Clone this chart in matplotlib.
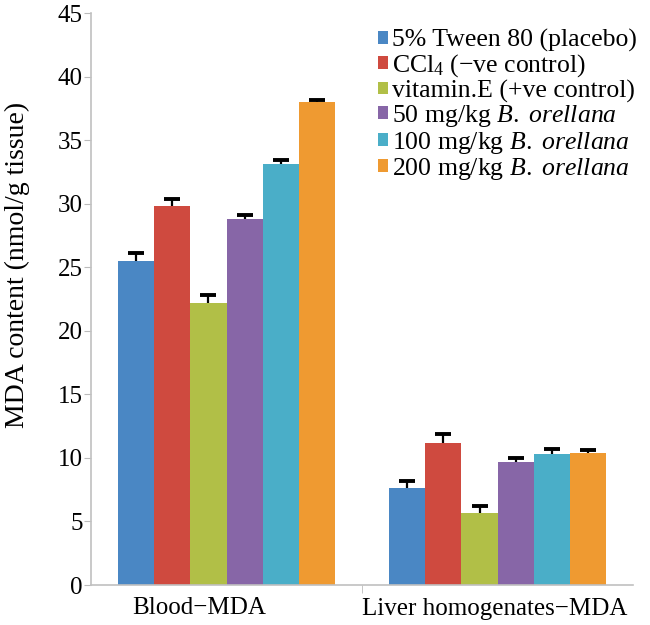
import numpy as np
import matplotlib.pyplot as plt
from matplotlib.ticker import FixedLocator, NullFormatter

plt.rcParams['font.family'] = ['Liberation Serif', 'DejaVu Serif']
plt.rcParams['mathtext.fontset'] = 'custom'
plt.rcParams['mathtext.rm'] = 'Liberation Serif'
plt.rcParams['mathtext.it'] = 'Liberation Serif:italic'

groups = ["Blood\u2212MDA", "Liver homogenates\u2212MDA"]
labels = ["5% Tween 80 (placebo)",
          "CCl$_4$ (\u2212ve control)",
          "vitamin.E (+ve control)",
          "50 mg/kg $\\it{B.\\ orellana}$",
          "100 mg/kg $\\it{B.\\ orellana}$",
          "200 mg/kg $\\it{B.\\ orellana}$"]
colors = ["#4a87c4", "#cf4a3f", "#b1bf47", "#8766a7", "#4aaec8", "#ef9a31"]

# mean values [blood, liver] per treatment
values = [[25.5, 7.6],
          [29.8, 11.2],
          [22.2, 5.65],
          [28.8, 9.65],
          [33.1, 10.3],
          [38.0, 10.4]]
errors = [[0.6, 0.55],
          [0.6, 0.65],
          [0.6, 0.55],
          [0.3, 0.35],
          [0.35, 0.4],
          [0.2, 0.2]]

fig = plt.figure(figsize=(6.5, 6.25), dpi=100)
ax = fig.add_axes([0.14, 0.064, 0.834, 0.915])

x = np.arange(len(groups))
w = 0.8 / len(labels)
for i in range(len(labels)):
    pos = x - 0.4 + w * (i + 0.5)
    v = np.array(values[i])
    e = np.array(errors[i])
    ax.bar(pos, v, w, color=colors[i], label=labels[i])
    # upper-only error bars
    ax.vlines(pos, v, v + e, color="black", lw=1.6, zorder=3)
    ax.plot(pos, v + e, ls="none", marker="_", ms=12, mew=2.8,
            color="black", zorder=3)

ax.set_xlim(-0.5, 1.5)
ax.set_ylim(0, 45)
ax.set_yticks(np.arange(0, 46, 5))
ax.set_xticks([-0.1, 0.99])
ax.set_xticklabels(groups, fontsize=18)
ax.tick_params(axis='x', length=0, pad=9)
ax.xaxis.set_minor_locator(FixedLocator([0.5]))
ax.xaxis.set_minor_formatter(NullFormatter())
ax.tick_params(axis='x', which='minor', length=6, color="#bbbbbb")
ax.tick_params(axis='y', labelsize=18, length=5, color="#bbbbbb", pad=1)
ax.set_ylabel("MDA content (nmol/g tissue)", fontsize=20)
ax.yaxis.set_label_coords(-0.112, 0.559)

for s in ["top", "right"]:
    ax.spines[s].set_visible(False)
for s in ["left", "bottom"]:
    ax.spines[s].set_color("#c0c0c0")
    ax.spines[s].set_linewidth(1.2)

ax.legend(loc="upper right", bbox_to_anchor=(1.035, 1.0), frameon=False,
          fontsize=18.5, handlelength=0.4, handleheight=0.4,
          handletextpad=0.15, labelspacing=0.02, borderaxespad=0.2)

plt.savefig("out.png", dpi=100)
